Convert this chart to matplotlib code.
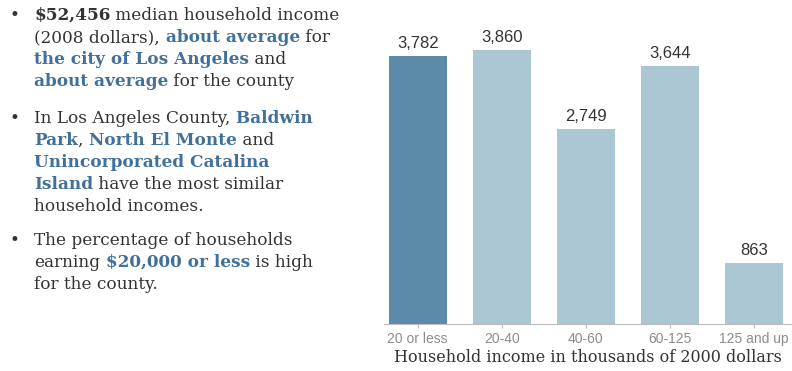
import numpy as np
import matplotlib.pyplot as plt

# income brackets (thousands of 2000 dollars) and household counts
brackets = ["20 or less", "20-40", "40-60", "60-125", "125 and up"]
households = [3782, 3860, 2749, 3644, 863]
value_labels = ["3,782", "3,860", "2,749", "3,644", "863"]

# bullet notes: each line is a list of (text, highlighted)
notes = [
    [[("$52,456", "num"), (" median household income", False)],
     [("(2008 dollars),", False), (" about average", True), (" for", False)],
     [("the city of Los Angeles", True), (" and", False)],
     [("about average", True), (" for the county", False)]],
    [[("In Los Angeles County,", False), (" Baldwin", True)],
     [("Park", True), (",", False), (" North El Monte", True), (" and", False)],
     [("Unincorporated Catalina", True)],
     [("Island", True), (" have the most similar", False)],
     [("household incomes.", False)]],
    [[("The percentage of households", False)],
     [("earning", False), (" $20,000 or less", True), (" is high", False)],
     [("for the county.", False)]],
]
note_tops = [15, 118, 240]   # pixel y of first line of each bullet
line_step = 22

dark = "#333333"
blue = "#41719a"
W, H = 792, 371

fig = plt.figure(figsize=(W / 100, H / 100), dpi=100)

# left text panel
tx = fig.add_axes([0, 0, 1, 1])
tx.set_xlim(0, W)
tx.set_ylim(H, 0)
tx.axis("off")
serif = "DejaVu Serif"
fs = 12.2
for top, lines in zip(note_tops, notes):
    tx.text(9, top + 9, "\u2022", fontsize=12, color=dark, family=serif,
            va="bottom", ha="left")
    for i, line in enumerate(lines):
        y = top + i * line_step + 9
        prev = None
        for s, hl in line:
            kw = dict(fontsize=fs, family=serif, va="bottom", ha="left")
            if hl == "num":
                kw.update(color=dark, fontweight="bold")
            elif hl:
                kw.update(color=blue, fontweight="bold")
            else:
                kw.update(color=dark)
            if prev is None:
                prev = tx.text(34, y, s, **kw)
            else:
                prev = tx.annotate(s, xy=(1, 0), xycoords=prev, **kw)

# bar chart
ax = fig.add_axes([384 / W, 47 / H, (W - 384) / W, 283.6 / H])
x = np.arange(len(brackets))
colors = ["#5b8ba9"] + ["#abc7d3"] * 4
bars = ax.bar(x, households, width=0.69, color=colors)
for b, lab in zip(bars, value_labels):
    ax.text(b.get_x() + b.get_width() / 2, b.get_height() + 70, lab,
            ha="center", va="bottom", fontsize=12, color=dark,
            family="Liberation Sans")
ax.set_xlim(-0.4, 4.45)
ax.set_ylim(0, 4000)
ax.set_yticks([])
ax.set_xticks(x)
ax.set_xticklabels(brackets, fontsize=10, color="#8c8c8c", family="Liberation Sans")
ax.tick_params(axis="x", length=3, color="#bbbbbb", pad=3)
for side in ["top", "right", "left"]:
    ax.spines[side].set_visible(False)
ax.spines["bottom"].set_color("#bbbbbb")
ax.set_xlabel("Household income in thousands of 2000 dollars", fontsize=11.5,
              family=serif, color=dark, labelpad=2)

fig.savefig("out.png", dpi=100)
